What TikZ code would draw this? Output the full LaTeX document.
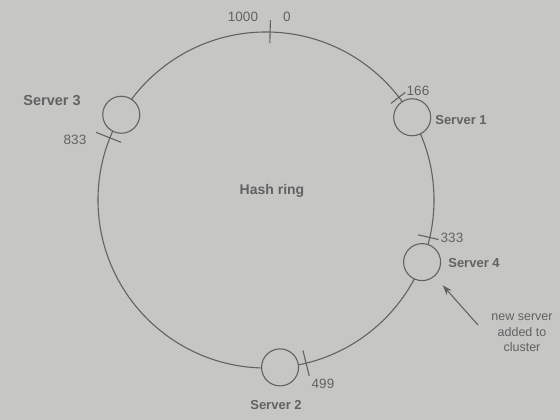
\documentclass[tikz,border=0pt]{standalone}
\usepackage{fontspec}
\setmainfont{Liberation Sans}
\usetikzlibrary{calc,
	positioning,
	arrows.meta}
\definecolor{paper}{RGB}{198,198,196}
\definecolor{ink}{RGB}{98,98,98}

\begin{document}
\begin{tikzpicture}[x=1pt, y=1pt,
        ring/.style={ink, line width=1.1pt},
        hashtick/.style={ink, line width=1.1pt},
        server/.style={circle, draw=ink, line width=1.1pt, fill=paper, minimum size=37pt, inner sep=0pt},
        srvname/.style={ink, font=\fontsize{13}{16}\selectfont\bfseries},
        hashval/.style={ink, font=\fontsize{13.5}{16}\selectfont},
        pointer/.style={ink, line width=1.1pt, -{Stealth[length=10pt, width=7pt]}, shorten >=12pt}]
            \fill[paper] (0, 0) rectangle (560, 420);
            \useasboundingbox (0, 0) rectangle (560, 420);

            \coordinate (hub) at (266, 220);
            \draw[ring] (hub) circle (168pt);
            \node[ink, font=\fontsize{14}{16}\selectfont\bfseries] (ringname) at (272, 229) {Hash ring};

            % ticks on the ring
            \draw[hashtick] ($(hub)+(88.6:157pt)$) -- ($(hub)+(88.6:180pt)$);
            \draw[hashtick] ($(hub)+(37.7:158pt)$) -- ($(hub)+(37.7:176pt)$);
            \draw[hashtick] ($(hub)+(-12.9:156pt)$) -- ($(hub)+(-12.9:177pt)$);
            \draw[hashtick] ($(hub)+(-76.2:155pt)$) -- ($(hub)+(-76.2:181pt)$);
            \draw[hashtick] ($(hub)+(158.3:156pt)$) -- ($(hub)+(158.3:183pt)$);
            \node[hashval] (v1000) at (243, 403) {1000};
            \node[hashval] (v0) at (287, 403) {0};
            \node[hashval] (v166) at (418, 329) {166};
            \node[hashval] (v333) at (452, 182) {333};
            \node[hashval] (v499) at (323, 36) {499};
            \node[hashval] (v833) at (75, 280) {833};

            % servers
            \node[server] (s1) at ($(hub)+(29.5:168pt)$) {};
            \node[server] (s4) at ($(hub)+(-21.7:168pt)$) {};
            \node[server] (s2) at ($(hub)+(-85.2:168pt)$) {};
            \node[server] (s3) at ($(hub)+(149.5:168pt)$) {};
            \node[srvname] (s1name) at (461, 300) {Server 1};
            \node[srvname] (s4name) at (474, 157) {Server 4};
            \node[srvname] (s2name) at (276, 15) {Server 2};
            \node[srvname, font=\fontsize{14.5}{16}\selectfont\bfseries] (s3name) at (52, 319) {Server 3};

            \node[ink, align=center, font=\fontsize{12.5}{15.5}\selectfont] (newsrv) at (522, 87) {new server\\added to\\cluster};
            \coordinate (arrfrom) at (478, 95);
            \draw[pointer] (arrfrom) -- (s4);
        \end{tikzpicture}
\end{document}
